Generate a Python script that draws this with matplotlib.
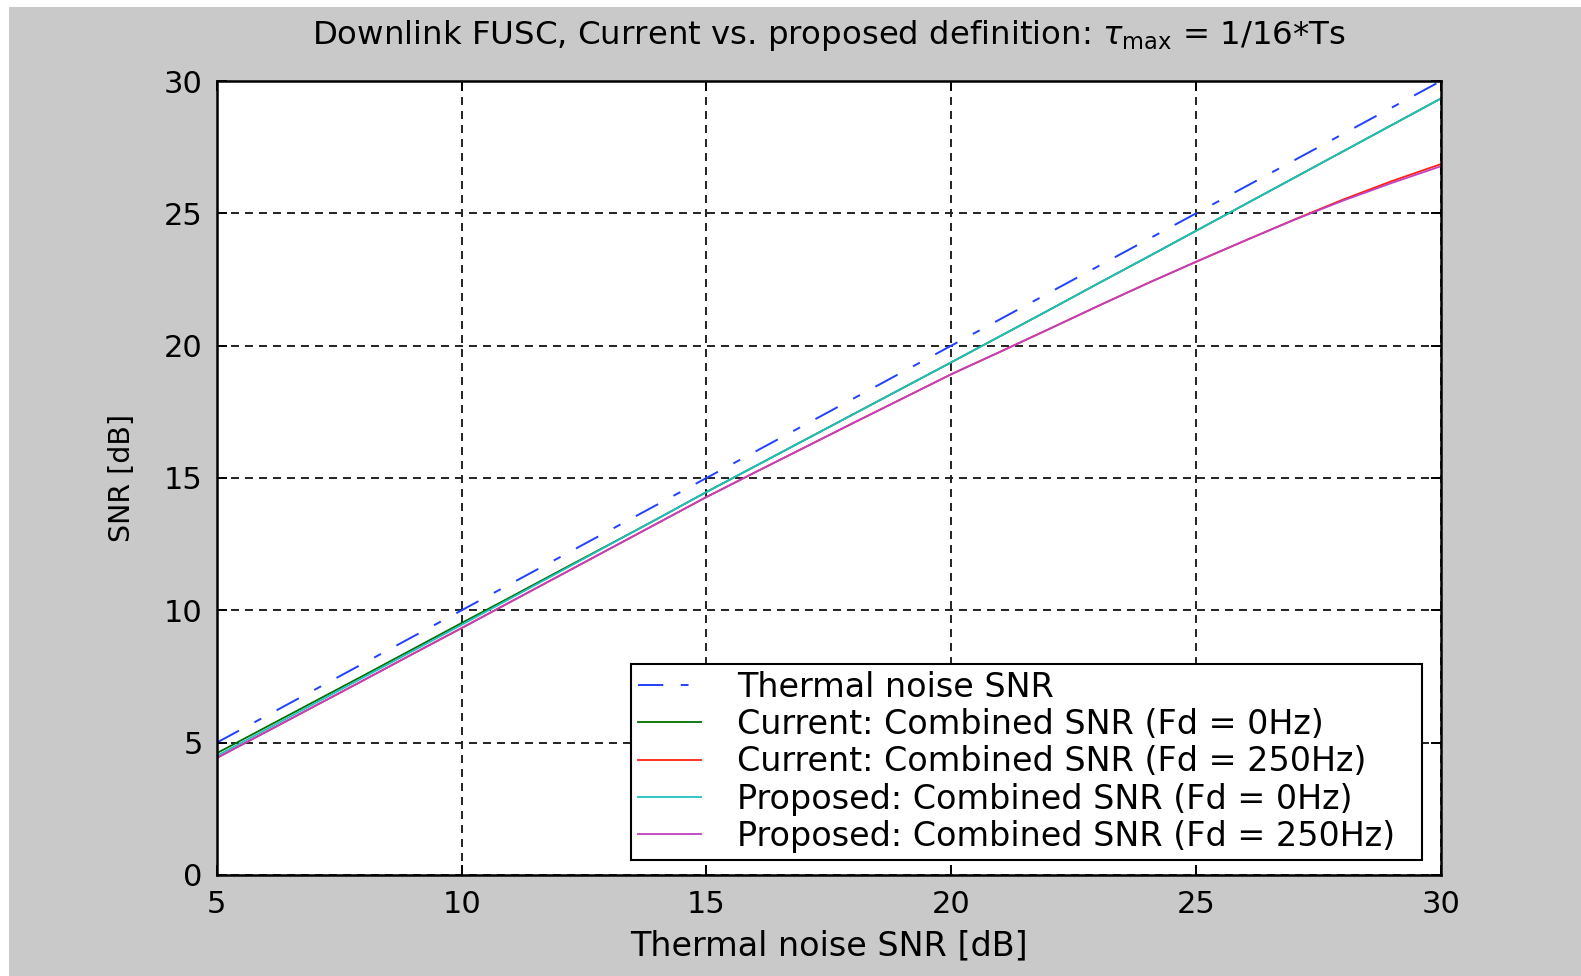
import matplotlib
matplotlib.use("Agg")
import matplotlib.pyplot as plt
from matplotlib.patches import Rectangle

# thermal noise SNR [dB] on the x axis
snr_x = [5, 6, 7, 8, 9, 10, 11, 12, 13, 14, 15, 16, 17, 18, 19, 20,
         21, 22, 23, 24, 25, 26, 27, 28, 29, 30]

# reference line (thermal noise only)
thermal = [5, 6, 7, 8, 9, 10, 11, 12, 13, 14, 15, 16, 17, 18, 19, 20,
           21, 22, 23, 24, 25, 26, 27, 28, 29, 30]

# combined SNR curves
cur_0hz = [4.60, 5.58, 6.56, 7.54, 8.53, 9.52, 10.50, 11.49, 12.47, 13.46,
           14.47, 15.45, 16.43, 17.41, 18.39, 19.37, 20.36, 21.35, 22.35, 23.34,
           24.34, 25.34, 26.34, 27.34, 28.34, 29.34]
cur_250hz = [4.42, 5.40, 6.38, 7.36, 8.35, 9.33, 10.32, 11.31, 12.30, 13.29,
             14.28, 15.22, 16.15, 17.08, 18.00, 18.92, 19.77, 20.63, 21.50, 22.35,
             23.17, 23.97, 24.76, 25.52, 26.22, 26.86]
prop_0hz = [4.50, 5.49, 6.48, 7.47, 8.46, 9.45, 10.45, 11.45, 12.46, 13.46,
            14.47, 15.45, 16.43, 17.41, 18.39, 19.37, 20.36, 21.35, 22.35, 23.34,
            24.34, 25.34, 26.34, 27.34, 28.34, 29.34]
prop_250hz = [4.42, 5.40, 6.38, 7.36, 8.35, 9.33, 10.32, 11.31, 12.30, 13.29,
              14.28, 15.22, 16.15, 17.08, 18.00, 18.92, 19.77, 20.63, 21.50, 22.35,
              23.17, 23.97, 24.75, 25.48, 26.15, 26.78]

labels = ["Thermal noise SNR",
          "Current: Combined SNR (Fd = 0Hz)",
          "Current: Combined SNR (Fd = 250Hz)",
          "Proposed: Combined SNR (Fd = 0Hz)",
          "Proposed: Combined SNR (Fd = 250Hz)"]

xticks = [5, 10, 15, 20, 25, 30]
yticks = [0, 5, 10, 15, 20, 25, 30]

plt.rcParams["font.family"] = ["DejaVu Sans"]
plt.rcParams["mathtext.fontset"] = "dejavusans"

fig = plt.figure(figsize=(15.81, 9.76), dpi=100, facecolor="white")
# grey MATLAB-style figure background, thin white strip top/left
bg = Rectangle((9 / 1581, 0), 1, 1 - 7 / 976, transform=fig.transFigure,
               facecolor="#c9c9c9", edgecolor="none", zorder=-10)
fig.add_artist(bg)

ax = fig.add_axes([0.1371, 0.1035, 0.9114 - 0.1371, 0.917 - 0.1035])
ax.set_zorder(1)
ax.set_facecolor("white")

ax.plot(snr_x, thermal, color="#2040ff", lw=1.4, dashes=(13, 9, 4, 9), label=labels[0])
ax.plot(snr_x, cur_0hz, color="#007000", lw=1.3, label=labels[1])
ax.plot(snr_x, cur_250hz, color="#ff2010", lw=1.3, label=labels[2])
ax.plot(snr_x, prop_0hz, color="#20c0c0", lw=1.3, label=labels[3])
ax.plot(snr_x, prop_250hz, color="#c040c0", lw=1.3, label=labels[4])

ax.set_xlim(5, 30)
ax.set_ylim(0, 30)
ax.set_xticks(xticks)
ax.set_yticks(yticks)
ax.grid(True, color="#222222", lw=1.4, linestyle=(0, (4.1, 3.1)))
ax.tick_params(direction="in", length=7, width=1.4, top=True, right=True,
               labelsize=22, colors="black")
ax.tick_params(axis="x", pad=11)
ax.tick_params(axis="y", pad=10)
for s in ax.spines.values():
    s.set_linewidth(1.8)
    s.set_color("black")

ax.set_xlabel("Thermal noise SNR [dB]", fontsize=24, labelpad=7)
ax.set_ylabel("SNR [dB]", fontsize=20.5, labelpad=20)
ax.set_title(r"Downlink FUSC, Current vs. proposed definition: $\tau_{\mathrm{max}}$ = 1/16*Ts",
             fontsize=23.3, pad=27)

# legend box spans a fixed width, like the MATLAB one
leg = ax.legend(loc="lower left", bbox_to_anchor=(0.3384, 0.0189, 0.6461, 0.25),
                mode="expand", fontsize=24, fancybox=False, framealpha=1,
                edgecolor="black", handlelength=1.9, handletextpad=1.08,
                labelspacing=0.13, borderpad=0.21, borderaxespad=0)
leg.get_frame().set_linewidth(1.5)

fig.savefig("out.png", dpi=100, facecolor=fig.get_facecolor())
